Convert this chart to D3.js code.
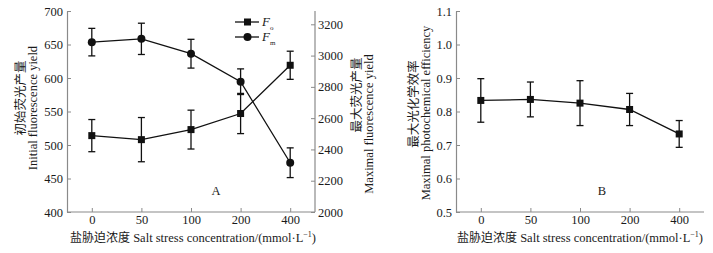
<!DOCTYPE html>
<html><head><meta charset="utf-8">
<script src="https://cdn.jsdelivr.net/npm/d3@7"></script>
<style>
body{margin:0;background:#fff;}
svg{display:block;font-family:"Liberation Serif","Times New Roman",serif;}
</style></head><body>
<svg id="c" width="713" height="253"></svg>
<script>
const categories = ["0","50","100","200","400"];
const foValues = [514, 508, 523, 547, 619];
const foErrors = [24, 33, 29, 30, 21];
const fmValues = [3086, 3107, 3012, 2833, 2315];
const fmErrors = [88, 100, 92, 82, 95];
const fvfmValues = [0.833, 0.836, 0.825, 0.806, 0.733];
const fvfmErrors = [0.065, 0.052, 0.067, 0.048, 0.040];
const leftTicks = [400,450,500,550,600,650,700];
const rightTicks = [2000,2200,2400,2600,2800,3000,3200];
const bTicks = [0.5,0.6,0.7,0.8,0.9,1.0,1.1];

const svg = d3.select("#c");
const axisColor = "#8a8a8a";
const fs = 12.5;
const serif = "Liberation Serif";
const textColor = "#1a1a1a";

function styleAxis(g){
  g.attr("font-family", serif).attr("font-size", fs);
  g.selectAll("path.domain").attr("stroke", axisColor).attr("stroke-width",1.2);
  g.selectAll(".tick line").attr("stroke", axisColor).attr("stroke-width",1);
  g.selectAll(".tick text").attr("fill",textColor);
}

function errorBars(g, x, y, vals, errs){
  const cap = 3.5;
  vals.forEach((v,i)=>{
    const cx = x(categories[i]);
    g.append("line").attr("x1",cx).attr("x2",cx).attr("y1",y(v+errs[i])).attr("y2",y(v-errs[i])).attr("stroke","#111").attr("stroke-width",1.3);
    [v+errs[i], v-errs[i]].forEach(e=>{
      g.append("line").attr("x1",cx-cap).attr("x2",cx+cap).attr("y1",y(e)).attr("y2",y(e)).attr("stroke","#111").attr("stroke-width",1.3);
    });
  });
}

function seriesLine(g, x, y, vals){
  g.append("path").datum(vals)
    .attr("d", d3.line().x((d,i)=>x(categories[i])).y(d=>y(d)))
    .attr("fill","none").attr("stroke","#111").attr("stroke-width",1.3);
}
function squares(g,x,y,vals){
  vals.forEach((v,i)=>g.append("rect").attr("x",x(categories[i])-3.5).attr("y",y(v)-3.5).attr("width",7).attr("height",7).attr("fill","#111"));
}
function circles(g,x,y,vals){
  vals.forEach((v,i)=>g.append("circle").attr("cx",x(categories[i])).attr("cy",y(v)).attr("r",4).attr("fill","#111"));
}

function xTitle(cx){
  svg.append("text").attr("x",cx).attr("y",242).attr("text-anchor","middle")
    .attr("font-family",serif).attr("font-size",fs).attr("fill",textColor)
    .html('<tspan font-family="Noto Sans CJK SC" font-size="12">盐胁迫浓度</tspan> Salt stress concentration/(mmol·L<tspan dy="-5" font-size="8">−1</tspan><tspan dy="5">)</tspan>');
}
function yTitle(x, cy, text, cjk){
  svg.append("text").attr("transform",`translate(${x},${cy}) rotate(-90)`).attr("text-anchor","middle")
    .attr("font-size",fs).attr("fill",textColor)
    .attr("font-family", cjk ? "Noto Sans CJK SC" : serif)
    .attr("dominant-baseline","central").text(text);
}

// ---------- Chart A ----------
const xA = d3.scalePoint().domain(categories).range([67,315]).padding(0.5);
const yL = d3.scaleLinear().domain([400,700]).range([212,11]);
const yR = d3.scaleLinear().domain([2000,3200]).range([212,24.3]);

const gA = svg.append("g");
const axL = gA.append("g").attr("transform","translate(67,0)").call(d3.axisLeft(yL).tickValues(leftTicks).tickSizeInner(-4).tickSizeOuter(0).tickPadding(4));
styleAxis(axL);
const axR = gA.append("g").attr("transform","translate(315,0)").call(d3.axisRight(yR).tickValues(rightTicks).tickFormat(d3.format("d")).tickSizeInner(-4).tickSizeOuter(0).tickPadding(3));
axR.select("path.domain").attr("d","M0,11V212");
styleAxis(axR);
const axBA = gA.append("g").attr("transform","translate(0,212)").call(d3.axisBottom(xA).tickSizeInner(-4).tickSizeOuter(0).tickPadding(3));
axBA.select("path.domain").attr("d","M67,0H315");
styleAxis(axBA);

errorBars(gA,xA,yR,fmValues,fmErrors);
errorBars(gA,xA,yL,foValues,foErrors);
seriesLine(gA,xA,yL,foValues);
seriesLine(gA,xA,yR,fmValues);
squares(gA,xA,yL,foValues);
circles(gA,xA,yR,fmValues);

// legend
[["o",22,"sq"],["m",37,"ci"]].forEach(([sub,ly,m])=>{
  gA.append("line").attr("x1",235).attr("x2",259).attr("y1",ly).attr("y2",ly).attr("stroke","#111").attr("stroke-width",1.3);
  if(m==="sq") gA.append("rect").attr("x",244).attr("y",ly-3.5).attr("width",7).attr("height",7).attr("fill","#111");
  else gA.append("circle").attr("cx",247.5).attr("cy",ly).attr("r",4).attr("fill","#111");
  gA.append("text").attr("x",262).attr("y",ly+4).attr("font-family",serif).attr("font-size",13).attr("font-style","italic").attr("fill",textColor)
    .html(`F<tspan dy="4" font-size="7" font-style="normal">${sub}</tspan>`);
});
gA.append("text").attr("x",216).attr("y",195).attr("text-anchor","middle").attr("font-family",serif).attr("font-size",fs).attr("fill",textColor).text("A");

yTitle(19, 98, "初始荧光产量", true);
yTitle(33, 108, "Initial fluorescence yield", false);
yTitle(355, 95, "最大荧光产量", true);
yTitle(369, 124, "Maximal fluorescence yield", false);
xTitle(193);

// ---------- Chart B ----------
const xB = d3.scalePoint().domain(categories).range([456,704]).padding(0.5);
const yB = d3.scaleLinear().domain([0.5,1.1]).range([212,11]);
const gB = svg.append("g");
const axLB = gB.append("g").attr("transform","translate(456,0)").call(d3.axisLeft(yB).tickValues(bTicks).tickFormat(d3.format(".1f")).tickSizeInner(-4).tickSizeOuter(0).tickPadding(4));
styleAxis(axLB);
const axBB = gB.append("g").attr("transform","translate(0,212)").call(d3.axisBottom(xB).tickSizeInner(-4).tickSizeOuter(0).tickPadding(3));
axBB.select("path.domain").attr("d","M456,0H704");
styleAxis(axBB);
errorBars(gB,xB,yB,fvfmValues,fvfmErrors);
seriesLine(gB,xB,yB,fvfmValues);
squares(gB,xB,yB,fvfmValues);
gB.append("text").attr("x",602).attr("y",195).attr("text-anchor","middle").attr("font-family",serif).attr("font-size",fs).attr("fill",textColor).text("B");
yTitle(412, 104, "最大光化学效率", true);
yTitle(426, 113, "Maximal photochemical efficiency", false);
xTitle(580);
</script></body></html>
